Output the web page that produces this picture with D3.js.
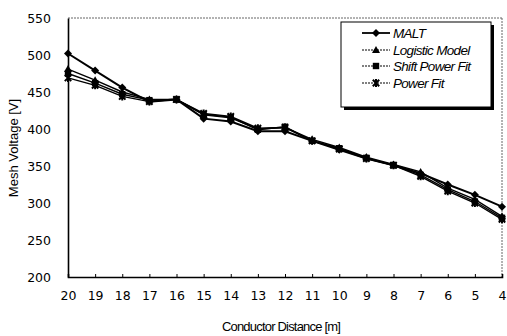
<!DOCTYPE html>
<html><head><meta charset="utf-8">
<script src="https://cdn.jsdelivr.net/npm/d3@7"></script>
<style>body{margin:0;background:#fff}svg{display:block}</style>
</head><body>
<script>
const categories = [20,19,18,17,16,15,14,13,12,11,10,9,8,7,6,5,4];
const malt      = [502,479,456,437,440,414,410,397,397,384,372,360,351,340,325,311,295];
const logistic  = [481,466,450,440,440,419,415,400,402,386,375,362,352,342,320,305,282];
const shiftPow  = [475,462,447,439,440,420,416,399,403,384,374,361,351,338,318,302,280];
const powerFit  = [469,459,444,437,440,421,417,401,402,384,373,360,351,336,316,300,278];
const yTicks = [200,250,300,350,400,450,500,550];
const seriesNames = ["MALT","Logistic Model","Shift Power Fit","Power Fit"];

const series = [
  {name: seriesNames[0], values: malt, marker: "diamond", width: 2},
  {name: seriesNames[1], values: logistic, marker: "triangle", width: 1.4},
  {name: seriesNames[2], values: shiftPow, marker: "square", width: 1.4},
  {name: seriesNames[3], values: powerFit, marker: "cross", width: 1.4}
];

const W = 507, H = 336;
const m = {l: 68, r: 502, t: 18, b: 277};
const svg = d3.select("body").append("svg").attr("width", W).attr("height", H);

const x = d3.scalePoint().domain(categories).range([m.l, m.r]).padding(0);
const y = d3.scaleLinear().domain([200, 550]).range([m.b, m.t]);

// frame: dotted top and right
svg.append("line").attr("x1", m.l).attr("x2", m.r).attr("y1", m.t).attr("y2", m.t)
  .attr("stroke", "#666").attr("stroke-width", 1).attr("stroke-dasharray", "2,1");
svg.append("line").attr("x1", m.r).attr("x2", m.r).attr("y1", m.t).attr("y2", m.b)
  .attr("stroke", "#666").attr("stroke-width", 1).attr("stroke-dasharray", "2,1");

// axes
const xAxis = d3.axisBottom(x).tickSize(-3).tickPadding(14);
const gx = svg.append("g").attr("transform", `translate(0,${m.b})`).call(xAxis);
gx.select(".domain").attr("stroke", "#000").attr("stroke-width", 1.6);
gx.selectAll(".tick line").attr("stroke", "#000");
gx.selectAll("text").attr("font-family", "DejaVu Sans").attr("font-size", 12.5).attr("fill", "#000");

const yAxis = d3.axisLeft(y).tickValues(yTicks).tickSize(0).tickPadding(17);
const gy = svg.append("g").attr("transform", `translate(${m.l},0)`).call(yAxis);
gy.select(".domain").attr("stroke", "#000").attr("stroke-width", 1.6);
gy.selectAll("text").attr("font-family", "DejaVu Sans").attr("font-size", 12.5).attr("fill", "#000");

// lines
const line = d3.line().x((d, i) => x(categories[i])).y(d => y(d));
function drawMarker(g, type, cx, cy) {
  if (type === "diamond") g.append("path").attr("d", `M${cx},${cy-4}L${cx+4},${cy}L${cx},${cy+4}L${cx-4},${cy}Z`).attr("fill", "#000");
  else if (type === "triangle") g.append("path").attr("d", `M${cx},${cy-4}L${cx+4},${cy+3}L${cx-4},${cy+3}Z`).attr("fill", "#000");
  else if (type === "square") g.append("rect").attr("x", cx-3.2).attr("y", cy-3.2).attr("width", 6.4).attr("height", 6.4).attr("fill", "#000");
  else g.append("path").attr("d", `M${cx-3.2},${cy-3.2}L${cx+3.2},${cy+3.2}M${cx+3.2},${cy-3.2}L${cx-3.2},${cy+3.2}M${cx},${cy-4}L${cx},${cy+4}`).attr("stroke", "#000").attr("stroke-width", 2);
}
series.slice().reverse().forEach(s => {
  const g = svg.append("g");
  g.append("path").datum(s.values).attr("d", line).attr("fill", "none")
    .attr("stroke", "#000").attr("stroke-width", s.width);
  s.values.forEach((v, i) => drawMarker(g, s.marker, x(categories[i]), y(v)));
});

// legend
const lg = svg.append("g");
lg.append("rect").attr("x", 344).attr("y", 25).attr("width", 150).attr("height", 85).attr("fill", "#000");
lg.append("rect").attr("x", 341).attr("y", 22).attr("width", 150).attr("height", 85)
  .attr("fill", "#fff").attr("stroke", "#000").attr("stroke-width", 1);
const lys = [33, 50, 66, 83];
series.forEach((s, i) => {
  const ly = lys[i];
  lg.append("line").attr("x1", 362).attr("x2", 390).attr("y1", ly).attr("y2", ly)
    .attr("stroke", "#000").attr("stroke-width", i === 0 ? 1.8 : 1)
    .attr("stroke-dasharray", i === 0 ? null : "2,1");
  drawMarker(lg, s.marker, 376, ly);
  lg.append("text").attr("x", 393).attr("y", ly + 5).text(s.name)
    .attr("font-family", "Liberation Sans").attr("font-style", "italic")
    .attr("font-size", 13.5).attr("letter-spacing", -0.7).attr("fill", "#000");
});

// titles
svg.append("text").attr("x", 281).attr("y", 331).attr("text-anchor", "middle")
  .attr("font-family", "Liberation Sans").attr("font-size", 13).attr("letter-spacing", -0.8)
  .text("Conductor Distance [m]");
svg.append("text").attr("transform", "translate(18,148) rotate(-90)").attr("text-anchor", "middle")
  .attr("font-family", "Liberation Sans").attr("font-size", 13)
  .text("Mesh Voltage [V]");
</script>
</body></html>
